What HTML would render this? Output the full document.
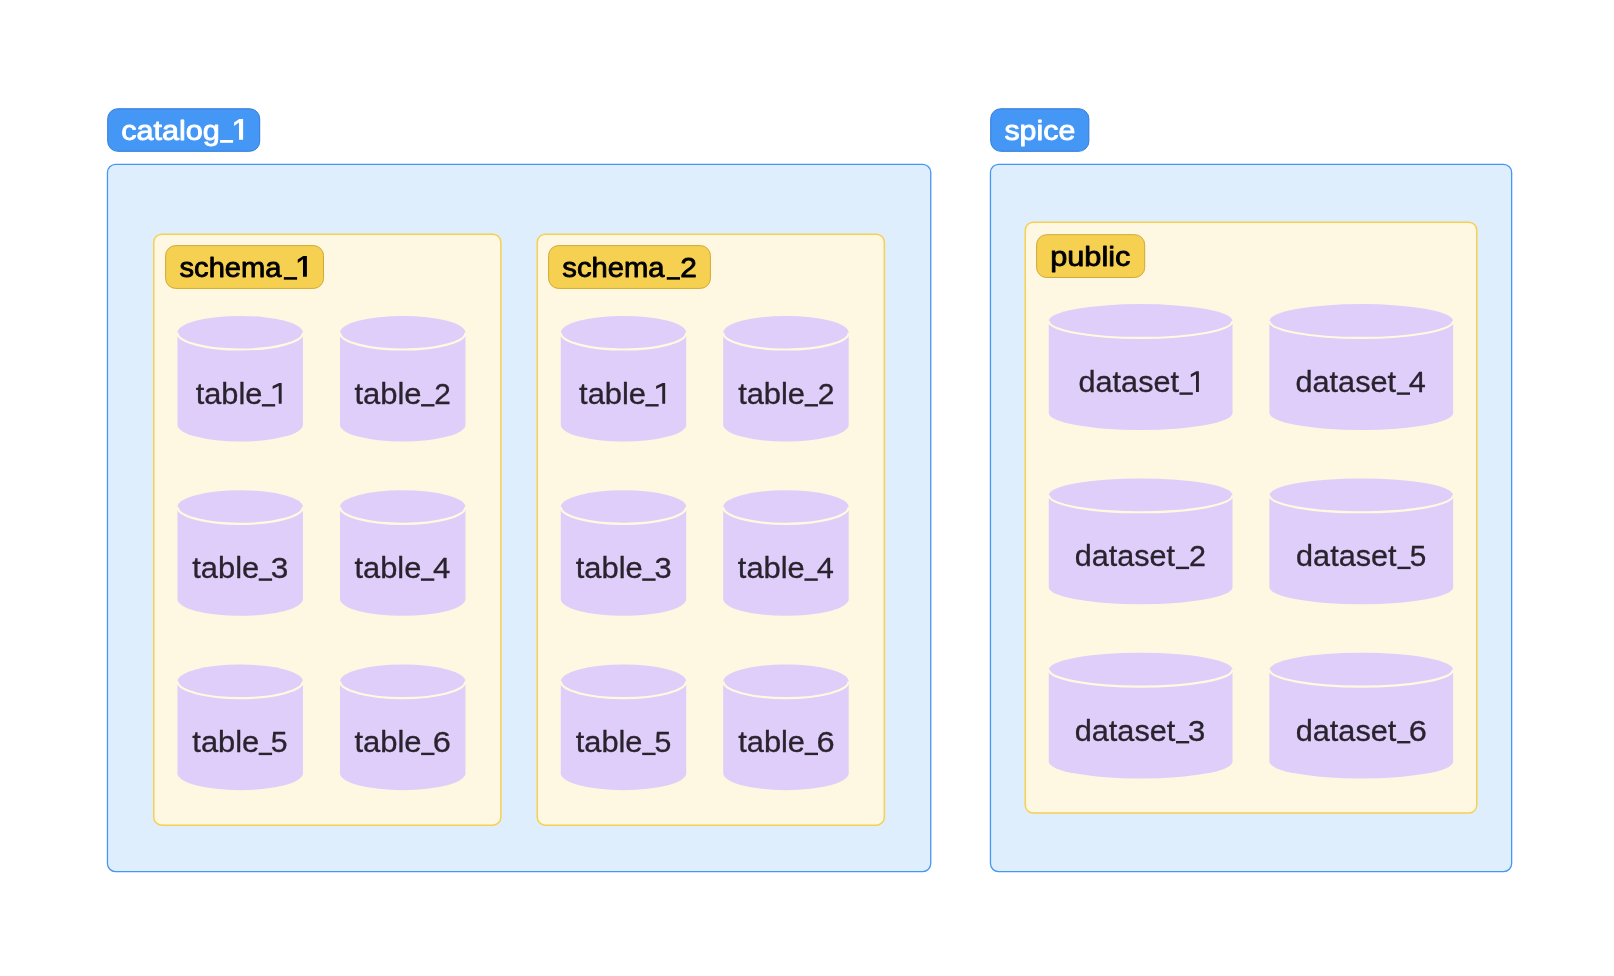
<!DOCTYPE html>
<html><head><meta charset="utf-8"><style>
html,body{margin:0;padding:0;background:#fff;width:1614px;height:976px;overflow:hidden}
svg{display:block;font-family:"Liberation Sans",sans-serif;will-change:transform}

</style></head><body>
<svg width="1614" height="976" viewBox="0 0 1614 976">
<rect x="107.7" y="108.75" width="152.0" height="42.55" rx="10" fill="#4597f6" stroke="#3079d9" stroke-width="1"/>
<rect x="107.46" y="164.46" width="823.3" height="707.1" rx="8" fill="#dfeefd" stroke="#4597f7" stroke-width="1.3"/>
<rect x="990.7" y="108.75" width="98.15" height="42.55" rx="10" fill="#4597f6" stroke="#3079d9" stroke-width="1"/>
<rect x="990.46" y="164.46" width="521.2" height="707.1" rx="8" fill="#dfeefd" stroke="#4597f7" stroke-width="1.3"/>
<text transform="translate(121.28,139.8) scale(1.0733,1)" font-size="28.5" fill="#ffffff" stroke="#ffffff" stroke-width="0.85" stroke-linejoin="round">catalog</text>
<rect x="220.10" y="140.00" width="13.00" height="2.80" fill="#ffffff"/>
<path d="M234.10,122.60 L239.30,119.00 L243.10,119.00 L243.10,139.80 L239.00,139.80 L239.00,122.40 L234.10,126.00 Z" fill="#ffffff"/>
<text transform="translate(1004.42,140.1) scale(1.0662,1)" font-size="28.5" fill="#ffffff" stroke="#ffffff" stroke-width="0.85" stroke-linejoin="round">spice</text>
<rect x="153.75" y="234.25" width="347.1" height="590.9" rx="8" fill="#fef7e2" stroke="#f6d050" stroke-width="1.5"/>
<rect x="165.6" y="245.6" width="157.9" height="42.8" rx="10" fill="#f6d051" stroke="#cfa935" stroke-width="1"/>
<text transform="translate(179.52,276.8) scale(1.0220,1)" font-size="28.5" fill="#000000" stroke="#000000" stroke-width="0.85" stroke-linejoin="round">schema</text>
<rect x="283.85" y="277.10" width="13.25" height="2.60" fill="#000000"/>
<path d="M297.75,259.50 L303.30,255.90 L306.90,255.90 L306.90,276.80 L303.00,276.80 L303.00,259.30 L297.75,262.90 Z" fill="#000000"/>
<path d="M177.46,332.72 L177.46,424.74 A62.73,16.8 0 0 0 302.92,424.74 L302.92,332.72 A62.73,16.8 0 0 0 177.46,332.72 Z" fill="#dfcdfa"/>
<path d="M177.46,332.72 A62.73,16.8 0 0 0 302.92,332.72" fill="none" stroke="#fff9e0" stroke-width="2.2"/>
<text transform="translate(195.64,403.8) scale(1.0427,1)" font-size="29.5" fill="#28232d" stroke="#28232d" stroke-width="0.3" stroke-linejoin="round">table</text>
<rect x="261.85" y="404.10" width="13.30" height="2.40" fill="#28232d"/>
<path d="M272.65,385.90 L279.05,382.90 L281.65,382.90 L281.65,403.80 L278.75,403.80 L278.75,385.90 L272.65,388.90 Z" fill="#28232d"/>
<path d="M340.0,332.72 L340.0,424.74 A62.73,16.8 0 0 0 465.46,424.74 L465.46,332.72 A62.73,16.8 0 0 0 340.0,332.72 Z" fill="#dfcdfa"/>
<path d="M340.0,332.72 A62.73,16.8 0 0 0 465.46,332.72" fill="none" stroke="#fff9e0" stroke-width="2.2"/>
<text transform="translate(354.42,403.8) scale(1.0502,1)" font-size="29.5" fill="#28232d" stroke="#28232d" stroke-width="0.3" stroke-linejoin="round">table</text>
<rect x="421.10" y="404.10" width="13.40" height="2.40" fill="#28232d"/>
<text transform="translate(434.17,403.8) scale(1.0080,1)" font-size="29.5" fill="#28232d" stroke="#28232d" stroke-width="0.3" stroke-linejoin="round">2</text>
<path d="M177.46,507.02000000000004 L177.46,599.0400000000001 A62.73,16.8 0 0 0 302.92,599.0400000000001 L302.92,507.02000000000004 A62.73,16.8 0 0 0 177.46,507.02000000000004 Z" fill="#dfcdfa"/>
<path d="M177.46,507.02000000000004 A62.73,16.8 0 0 0 302.92,507.02000000000004" fill="none" stroke="#fff9e0" stroke-width="2.2"/>
<text transform="translate(192.26,578.1) scale(1.0461,1)" font-size="29.5" fill="#28232d" stroke="#28232d" stroke-width="0.3" stroke-linejoin="round">table</text>
<rect x="258.70" y="578.40" width="13.40" height="2.40" fill="#28232d"/>
<text transform="translate(270.85,578.1) scale(1.0720,1)" font-size="29.5" fill="#28232d" stroke="#28232d" stroke-width="0.3" stroke-linejoin="round">3</text>
<path d="M340.0,507.02000000000004 L340.0,599.0400000000001 A62.73,16.8 0 0 0 465.46,599.0400000000001 L465.46,507.02000000000004 A62.73,16.8 0 0 0 340.0,507.02000000000004 Z" fill="#dfcdfa"/>
<path d="M340.0,507.02000000000004 A62.73,16.8 0 0 0 465.46,507.02000000000004" fill="none" stroke="#fff9e0" stroke-width="2.2"/>
<text transform="translate(354.54,578.1) scale(1.0448,1)" font-size="29.5" fill="#28232d" stroke="#28232d" stroke-width="0.3" stroke-linejoin="round">table</text>
<rect x="420.90" y="578.40" width="13.40" height="2.40" fill="#28232d"/>
<text transform="translate(433.05,578.1) scale(1.0572,1)" font-size="29.5" fill="#28232d" stroke="#28232d" stroke-width="0.3" stroke-linejoin="round">4</text>
<path d="M177.46,681.3199999999999 L177.46,773.34 A62.73,16.8 0 0 0 302.92,773.34 L302.92,681.3199999999999 A62.73,16.8 0 0 0 177.46,681.3199999999999 Z" fill="#dfcdfa"/>
<path d="M177.46,681.3199999999999 A62.73,16.8 0 0 0 302.92,681.3199999999999" fill="none" stroke="#fff9e0" stroke-width="2.2"/>
<text transform="translate(192.33,752.4000000000001) scale(1.0471,1)" font-size="29.5" fill="#28232d" stroke="#28232d" stroke-width="0.3" stroke-linejoin="round">table</text>
<rect x="258.70" y="752.70" width="13.40" height="2.40" fill="#28232d"/>
<text transform="translate(270.83,752.4000000000001) scale(1.0225,1)" font-size="29.5" fill="#28232d" stroke="#28232d" stroke-width="0.3" stroke-linejoin="round">5</text>
<path d="M340.0,681.3199999999999 L340.0,773.34 A62.73,16.8 0 0 0 465.46,773.34 L465.46,681.3199999999999 A62.73,16.8 0 0 0 340.0,681.3199999999999 Z" fill="#dfcdfa"/>
<path d="M340.0,681.3199999999999 A62.73,16.8 0 0 0 465.46,681.3199999999999" fill="none" stroke="#fff9e0" stroke-width="2.2"/>
<text transform="translate(354.44,752.4000000000001) scale(1.0502,1)" font-size="29.5" fill="#28232d" stroke="#28232d" stroke-width="0.3" stroke-linejoin="round">table</text>
<rect x="421.10" y="752.70" width="13.40" height="2.40" fill="#28232d"/>
<text transform="translate(432.78,752.4000000000001) scale(1.1023,1)" font-size="29.5" fill="#28232d" stroke="#28232d" stroke-width="0.3" stroke-linejoin="round">6</text>
<rect x="537.25" y="234.25" width="347.1" height="590.9" rx="8" fill="#fef7e2" stroke="#f6d050" stroke-width="1.5"/>
<rect x="548.6" y="245.6" width="161.8" height="42.8" rx="10" fill="#f6d051" stroke="#cfa935" stroke-width="1"/>
<text transform="translate(562.32,276.8) scale(1.0245,1)" font-size="28.5" fill="#000000" stroke="#000000" stroke-width="0.85" stroke-linejoin="round">schema</text>
<rect x="666.75" y="277.10" width="13.25" height="2.60" fill="#000000"/>
<text transform="translate(680.15,276.8) scale(1.0478,1)" font-size="28.5" fill="#000000" stroke="#000000" stroke-width="0.85" stroke-linejoin="round">2</text>
<path d="M560.77,332.72 L560.77,424.74 A62.73,16.8 0 0 0 686.23,424.74 L686.23,332.72 A62.73,16.8 0 0 0 560.77,332.72 Z" fill="#dfcdfa"/>
<path d="M560.77,332.72 A62.73,16.8 0 0 0 686.23,332.72" fill="none" stroke="#fff9e0" stroke-width="2.2"/>
<text transform="translate(579.07,403.8) scale(1.0465,1)" font-size="29.5" fill="#28232d" stroke="#28232d" stroke-width="0.3" stroke-linejoin="round">table</text>
<rect x="645.35" y="404.10" width="13.30" height="2.40" fill="#28232d"/>
<path d="M656.15,385.90 L662.55,382.90 L665.15,382.90 L665.15,403.80 L662.25,403.80 L662.25,385.90 L656.15,388.90 Z" fill="#28232d"/>
<path d="M723.24,332.72 L723.24,424.74 A62.73,16.8 0 0 0 848.7,424.74 L848.7,332.72 A62.73,16.8 0 0 0 723.24,332.72 Z" fill="#dfcdfa"/>
<path d="M723.24,332.72 A62.73,16.8 0 0 0 848.7,332.72" fill="none" stroke="#fff9e0" stroke-width="2.2"/>
<text transform="translate(738.14,403.8) scale(1.0456,1)" font-size="29.5" fill="#28232d" stroke="#28232d" stroke-width="0.3" stroke-linejoin="round">table</text>
<rect x="804.60" y="404.10" width="13.40" height="2.40" fill="#28232d"/>
<text transform="translate(817.69,403.8) scale(1.0158,1)" font-size="29.5" fill="#28232d" stroke="#28232d" stroke-width="0.3" stroke-linejoin="round">2</text>
<path d="M560.77,507.02000000000004 L560.77,599.0400000000001 A62.73,16.8 0 0 0 686.23,599.0400000000001 L686.23,507.02000000000004 A62.73,16.8 0 0 0 560.77,507.02000000000004 Z" fill="#dfcdfa"/>
<path d="M560.77,507.02000000000004 A62.73,16.8 0 0 0 686.23,507.02000000000004" fill="none" stroke="#fff9e0" stroke-width="2.2"/>
<text transform="translate(575.73,578.1) scale(1.0474,1)" font-size="29.5" fill="#28232d" stroke="#28232d" stroke-width="0.3" stroke-linejoin="round">table</text>
<rect x="642.20" y="578.40" width="13.40" height="2.40" fill="#28232d"/>
<text transform="translate(654.44,578.1) scale(1.0432,1)" font-size="29.5" fill="#28232d" stroke="#28232d" stroke-width="0.3" stroke-linejoin="round">3</text>
<path d="M723.24,507.02000000000004 L723.24,599.0400000000001 A62.73,16.8 0 0 0 848.7,599.0400000000001 L848.7,507.02000000000004 A62.73,16.8 0 0 0 723.24,507.02000000000004 Z" fill="#dfcdfa"/>
<path d="M723.24,507.02000000000004 A62.73,16.8 0 0 0 848.7,507.02000000000004" fill="none" stroke="#fff9e0" stroke-width="2.2"/>
<text transform="translate(737.84,578.1) scale(1.0466,1)" font-size="29.5" fill="#28232d" stroke="#28232d" stroke-width="0.3" stroke-linejoin="round">table</text>
<rect x="804.40" y="578.40" width="13.40" height="2.40" fill="#28232d"/>
<text transform="translate(816.82,578.1) scale(1.0435,1)" font-size="29.5" fill="#28232d" stroke="#28232d" stroke-width="0.3" stroke-linejoin="round">4</text>
<path d="M560.77,681.3199999999999 L560.77,773.34 A62.73,16.8 0 0 0 686.23,773.34 L686.23,681.3199999999999 A62.73,16.8 0 0 0 560.77,681.3199999999999 Z" fill="#dfcdfa"/>
<path d="M560.77,681.3199999999999 A62.73,16.8 0 0 0 686.23,681.3199999999999" fill="none" stroke="#fff9e0" stroke-width="2.2"/>
<text transform="translate(575.74,752.4000000000001) scale(1.0435,1)" font-size="29.5" fill="#28232d" stroke="#28232d" stroke-width="0.3" stroke-linejoin="round">table</text>
<rect x="642.20" y="752.70" width="13.40" height="2.40" fill="#28232d"/>
<text transform="translate(654.50,752.4000000000001) scale(1.0236,1)" font-size="29.5" fill="#28232d" stroke="#28232d" stroke-width="0.3" stroke-linejoin="round">5</text>
<path d="M723.24,681.3199999999999 L723.24,773.34 A62.73,16.8 0 0 0 848.7,773.34 L848.7,681.3199999999999 A62.73,16.8 0 0 0 723.24,681.3199999999999 Z" fill="#dfcdfa"/>
<path d="M723.24,681.3199999999999 A62.73,16.8 0 0 0 848.7,681.3199999999999" fill="none" stroke="#fff9e0" stroke-width="2.2"/>
<text transform="translate(738.22,752.4000000000001) scale(1.0442,1)" font-size="29.5" fill="#28232d" stroke="#28232d" stroke-width="0.3" stroke-linejoin="round">table</text>
<rect x="804.60" y="752.70" width="13.40" height="2.40" fill="#28232d"/>
<text transform="translate(816.41,752.4000000000001) scale(1.1051,1)" font-size="29.5" fill="#28232d" stroke="#28232d" stroke-width="0.3" stroke-linejoin="round">6</text>
<rect x="1025.25" y="222.25" width="451.5" height="590.75" rx="8" fill="#fef7e2" stroke="#f6d050" stroke-width="1.5"/>
<rect x="1036.6" y="234.7" width="108.1" height="42.76" rx="10" fill="#f6d051" stroke="#cfa935" stroke-width="1"/>
<text transform="translate(1050.19,265.8) scale(1.0790,1)" font-size="28.5" fill="#000000" stroke="#000000" stroke-width="0.85" stroke-linejoin="round">public</text>
<path d="M1048.8,321.03 L1048.8,413.05 A91.85,16.95 0 0 0 1232.5,413.05 L1232.5,321.03 A91.85,16.95 0 0 0 1048.8,321.03 Z" fill="#dfcdfa"/>
<path d="M1048.8,321.03 A91.85,16.95 0 0 0 1232.5,321.03" fill="none" stroke="#fff9e0" stroke-width="2.2"/>
<text transform="translate(1078.51,392.1) scale(1.0390,1)" font-size="29.5" fill="#28232d" stroke="#28232d" stroke-width="0.3" stroke-linejoin="round">dataset</text>
<rect x="1179.50" y="392.40" width="13.30" height="2.40" fill="#28232d"/>
<path d="M1190.80,374.20 L1196.30,371.20 L1198.90,371.20 L1198.90,392.10 L1196.00,392.10 L1196.00,374.20 L1190.80,377.20 Z" fill="#28232d"/>
<path d="M1269.4,321.03 L1269.4,413.05 A91.85,16.95 0 0 0 1453.1000000000001,413.05 L1453.1000000000001,321.03 A91.85,16.95 0 0 0 1269.4,321.03 Z" fill="#dfcdfa"/>
<path d="M1269.4,321.03 A91.85,16.95 0 0 0 1453.1000000000001,321.03" fill="none" stroke="#fff9e0" stroke-width="2.2"/>
<text transform="translate(1295.41,392.1) scale(1.0407,1)" font-size="29.5" fill="#28232d" stroke="#28232d" stroke-width="0.3" stroke-linejoin="round">dataset</text>
<rect x="1396.80" y="392.40" width="13.20" height="2.40" fill="#28232d"/>
<text transform="translate(1408.80,392.1) scale(1.0380,1)" font-size="29.5" fill="#28232d" stroke="#28232d" stroke-width="0.3" stroke-linejoin="round">4</text>
<path d="M1048.8,495.33 L1048.8,587.3499999999999 A91.85,16.95 0 0 0 1232.5,587.3499999999999 L1232.5,495.33 A91.85,16.95 0 0 0 1048.8,495.33 Z" fill="#dfcdfa"/>
<path d="M1048.8,495.33 A91.85,16.95 0 0 0 1232.5,495.33" fill="none" stroke="#fff9e0" stroke-width="2.2"/>
<text transform="translate(1074.77,566.4000000000001) scale(1.0365,1)" font-size="29.5" fill="#28232d" stroke="#28232d" stroke-width="0.3" stroke-linejoin="round">dataset</text>
<rect x="1175.90" y="566.70" width="13.20" height="2.40" fill="#28232d"/>
<text transform="translate(1189.09,566.4000000000001) scale(1.0338,1)" font-size="29.5" fill="#28232d" stroke="#28232d" stroke-width="0.3" stroke-linejoin="round">2</text>
<path d="M1269.4,495.33 L1269.4,587.3499999999999 A91.85,16.95 0 0 0 1453.1000000000001,587.3499999999999 L1453.1000000000001,495.33 A91.85,16.95 0 0 0 1269.4,495.33 Z" fill="#dfcdfa"/>
<path d="M1269.4,495.33 A91.85,16.95 0 0 0 1453.1000000000001,495.33" fill="none" stroke="#fff9e0" stroke-width="2.2"/>
<text transform="translate(1296.04,566.4000000000001) scale(1.0390,1)" font-size="29.5" fill="#28232d" stroke="#28232d" stroke-width="0.3" stroke-linejoin="round">dataset</text>
<rect x="1397.40" y="566.70" width="13.20" height="2.40" fill="#28232d"/>
<text transform="translate(1409.77,566.4000000000001) scale(1.0075,1)" font-size="29.5" fill="#28232d" stroke="#28232d" stroke-width="0.3" stroke-linejoin="round">5</text>
<path d="M1048.8,669.6300000000001 L1048.8,761.65 A91.85,16.95 0 0 0 1232.5,761.65 L1232.5,669.6300000000001 A91.85,16.95 0 0 0 1048.8,669.6300000000001 Z" fill="#dfcdfa"/>
<path d="M1048.8,669.6300000000001 A91.85,16.95 0 0 0 1232.5,669.6300000000001" fill="none" stroke="#fff9e0" stroke-width="2.2"/>
<text transform="translate(1074.71,740.7) scale(1.0407,1)" font-size="29.5" fill="#28232d" stroke="#28232d" stroke-width="0.3" stroke-linejoin="round">dataset</text>
<rect x="1176.00" y="741.00" width="13.20" height="2.40" fill="#28232d"/>
<text transform="translate(1188.08,740.7) scale(1.0537,1)" font-size="29.5" fill="#28232d" stroke="#28232d" stroke-width="0.3" stroke-linejoin="round">3</text>
<path d="M1269.4,669.6300000000001 L1269.4,761.65 A91.85,16.95 0 0 0 1453.1000000000001,761.65 L1453.1000000000001,669.6300000000001 A91.85,16.95 0 0 0 1269.4,669.6300000000001 Z" fill="#dfcdfa"/>
<path d="M1269.4,669.6300000000001 A91.85,16.95 0 0 0 1453.1000000000001,669.6300000000001" fill="none" stroke="#fff9e0" stroke-width="2.2"/>
<text transform="translate(1295.70,740.7) scale(1.0401,1)" font-size="29.5" fill="#28232d" stroke="#28232d" stroke-width="0.3" stroke-linejoin="round">dataset</text>
<rect x="1397.10" y="741.00" width="13.20" height="2.40" fill="#28232d"/>
<text transform="translate(1408.75,740.7) scale(1.1018,1)" font-size="29.5" fill="#28232d" stroke="#28232d" stroke-width="0.3" stroke-linejoin="round">6</text>
</svg>
</body></html>
